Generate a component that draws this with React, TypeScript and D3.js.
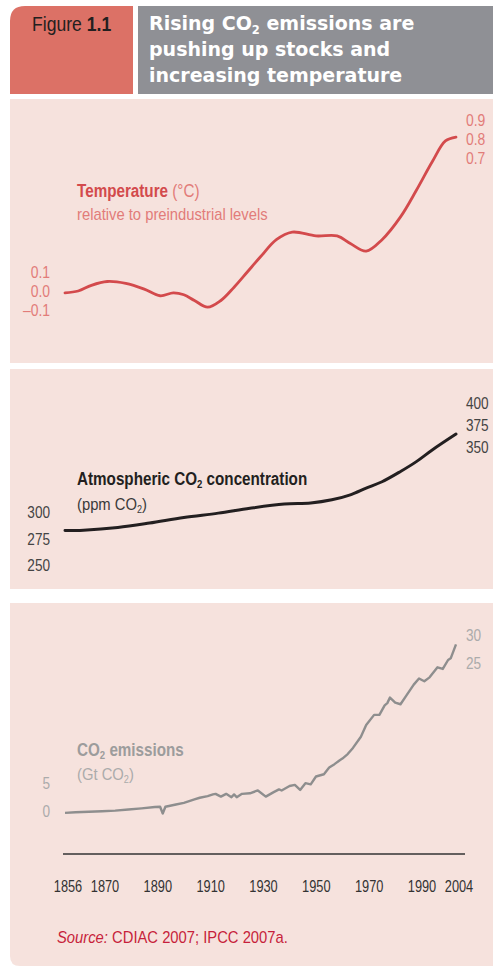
import React from "react";
import * as d3 from "d3";

// ---------- Data ----------
const tempYears = [1856, 1861, 1866, 1872, 1879, 1886, 1892, 1897, 1901, 1905, 1910, 1915, 1920, 1925, 1930, 1936, 1942, 1951, 1959, 1964, 1970, 1976, 1983, 1989, 1995, 2000, 2004];
const tempValues = [-0.01, 0.0, 0.03, 0.05, 0.04, 0.01, -0.025, -0.01, -0.02, -0.05, -0.085, -0.05, 0.02, 0.1, 0.18, 0.27, 0.31, 0.29, 0.29, 0.25, 0.21, 0.27, 0.39, 0.53, 0.68, 0.79, 0.81];

const co2Years = [1856, 1863, 1876, 1888, 1901, 1914, 1926, 1939, 1949, 1957, 1964, 1970, 1976, 1983, 1989, 1995, 2004];
const co2Values = [283, 283.3, 285.8, 290, 295.3, 299.4, 304, 308, 309, 312, 316.7, 323, 329, 338.7, 348, 359, 374];

const emisYears = [1856, 1860, 1865, 1870, 1875, 1880, 1885, 1890, 1892, 1893, 1894, 1898, 1901, 1903, 1905, 1907, 1910, 1912, 1913, 1915, 1917, 1919, 1920, 1921, 1923, 1926, 1929, 1932, 1935, 1937, 1938, 1941, 1943, 1945, 1947, 1949, 1951, 1954, 1956, 1958, 1960, 1961, 1963, 1965, 1968, 1970, 1973, 1975, 1977, 1978, 1979, 1981, 1983, 1985, 1988, 1990, 1992, 1994, 1997, 1999, 2001, 2002, 2004];
const emisValues = [0.2, 0.3, 0.4, 0.5, 0.6, 0.8, 1.0, 1.25, 1.3, 0.1, 1.3, 1.7, 2.0, 2.3, 2.6, 2.9, 3.2, 3.5, 3.6, 3.1, 3.6, 3.0, 3.5, 3.0, 3.6, 3.7, 4.2, 3.1, 3.9, 4.4, 4.2, 5.0, 5.2, 4.3, 5.5, 5.3, 6.7, 7.1, 8.3, 8.9, 9.6, 9.9, 10.7, 11.8, 13.8, 15.9, 17.7, 17.7, 19.4, 19.8, 20.8, 19.9, 19.6, 21.0, 23.1, 24.2, 23.7, 24.4, 26.2, 25.9, 27.5, 27.8, 30.3];

const xTickYears = [1856, 1870, 1890, 1910, 1930, 1950, 1970, 1990, 2004];
const tempLeftTicks = [0.1, 0.0, -0.1];
const tempLeftLabels = ["0.1", "0.0", "–0.1"];
const tempRightTicks = [0.9, 0.8, 0.7];
const co2LeftTicks = [300, 275, 250];
const co2RightTicks = [400, 375, 350];
const emisLeftTicks = [5, 0];
const emisRightTicks = [30, 25];

const titleLines = ["Rising CO", " emissions are", "pushing up stocks and", "increasing temperature"];

// ---------- Styles ----------
const NARROW = "'Liberation Sans', Arial, sans-serif";
const TITLE_FONT = "'DejaVu Sans', sans-serif";
const PANEL_BG = "#f6e2dd";
const TEMP_RED = "#d34a4c";
const TEMP_LIGHT = "#e27c79";
const SRC_RED = "#c71f3b";

type NProps = {
  x: number;
  y: number;
  sx?: number;
  anchor?: "start" | "middle" | "end";
  size: number;
  fill: string;
  weight?: string;
  dy?: string;
  children?: React.ReactNode;
};

// Condensed-looking text: horizontally compressed Liberation Sans
function NText({ x, y, sx = 0.9, anchor = "start", size, fill, weight = "normal", dy, children }: NProps) {
  return (
    <text
      transform={`translate(${x},${y}) scale(${sx},1)`}
      textAnchor={anchor}
      fontFamily={NARROW}
      fontSize={size}
      fill={fill}
      fontWeight={weight}
      dy={dy}
    >
      {children}
    </text>
  );
}

export default function App() {
  const W = 493;
  const H = 968;

  const x = d3.scaleLinear().domain([1856, 2004]).range([65, 456]);

  const yT = d3.scaleLinear().domain([0, 0.8]).range([291, 139]);
  const yC = d3.scaleLinear().domain([275, 300]).range([539, 512.5]);
  const yCR = d3.scaleLinear().domain([350, 400]).range([447, 403]);
  const yE = d3.scaleLinear().domain([0, 5]).range([814, 786]);
  const yER = d3.scaleLinear().domain([25, 30]).range([663, 635]);

  const tempLine = d3
    .line<number>()
    .x((_, i) => x(tempYears[i]))
    .y((d) => yT(d))
    .curve(d3.curveCatmullRom.alpha(0.5));
  const co2Line = d3
    .line<number>()
    .x((_, i) => x(co2Years[i]))
    .y((d) => yC(d))
    .curve(d3.curveCatmullRom.alpha(0.5));
  const emisLine = d3
    .line<number>()
    .x((_, i) => x(emisYears[i]))
    .y((d) => yE(d))
    .curve(d3.curveLinear);

  const r = 15;
  const redPath = `M10,${6 + r} Q10,6 ${10 + r},6 L133,6 L133,94 L10,94 Z`;
  const rb = 10;
  const p3Path = `M10,603 L493,603 L493,966 L${10 + rb},966 Q10,966 10,${966 - rb} Z`;

  return (
    <svg
      width={W}
      height={H}
      viewBox={`0 0 ${W} ${H}`}
      style={{ position: "absolute", left: 0, top: 0, background: "#ffffff" }}
    >
      {/* Header */}
      <path d={redPath} fill="#dc7166" />
      <rect x={138} y={6} width={W - 138} height={88} fill="#8f9095" />
      <NText x={32} y={31} sx={0.88} size={20} fill="#231f20">
        Figure <tspan fontWeight="bold">1.1</tspan>
      </NText>
      <text fontFamily={TITLE_FONT} fontSize={19} fontWeight="bold" fill="#ffffff">
        <tspan x={149} y={30}>
          {titleLines[0]}
          <tspan fontSize={11.5} dy={4}>2</tspan>
          <tspan dy={-4}>{titleLines[1]}</tspan>
        </tspan>
        <tspan x={149} y={55.5}>{titleLines[2]}</tspan>
        <tspan x={149} y={81.5}>{titleLines[3]}</tspan>
      </text>

      {/* Panels */}
      <rect x={10} y={99} width={W - 10} height={264} fill={PANEL_BG} />
      <rect x={10} y={369} width={W - 10} height={220} fill={PANEL_BG} />
      <path d={p3Path} fill={PANEL_BG} />

      {/* Temperature panel */}
      <NText x={77} y={197} sx={0.87} size={17.5} fill={TEMP_RED} weight="bold">
        Temperature<tspan fontWeight="normal" fill={TEMP_LIGHT}> (°C)</tspan>
      </NText>
      <NText x={77} y={220} sx={0.87} size={17} fill={TEMP_LIGHT}>
        relative to preindustrial levels
      </NText>
      {tempLeftTicks.map((t, i) => (
        <NText key={"tl" + i} x={50} y={yT(t)} dy="0.35em" anchor="end" sx={0.87} size={16} fill={TEMP_LIGHT}>
          {tempLeftLabels[i]}
        </NText>
      ))}
      {tempRightTicks.map((t, i) => (
        <NText key={"tr" + i} x={466} y={yT(t)} dy="0.35em" sx={0.87} size={16} fill={TEMP_LIGHT}>
          {t.toFixed(1)}
        </NText>
      ))}
      <path d={tempLine(tempValues) || ""} fill="none" stroke={TEMP_RED} strokeWidth={2.8} strokeLinecap="round" />

      {/* CO2 concentration panel */}
      <NText x={77} y={485} sx={0.87} size={17.5} fill="#231f20" weight="bold">
        Atmospheric CO<tspan fontSize={11} dy={3}>2</tspan>
        <tspan dy={-3}> concentration</tspan>
      </NText>
      <NText x={77} y={510} sx={0.87} size={17} fill="#3a3a3a">
        (ppm CO<tspan fontSize={10.5} dy={3}>2</tspan>
        <tspan dy={-3}>)</tspan>
      </NText>
      {co2LeftTicks.map((t, i) => (
        <NText key={"cl" + i} x={50} y={yC(t)} dy="0.35em" anchor="end" sx={0.85} size={16} fill="#444">
          {t}
        </NText>
      ))}
      {co2RightTicks.map((t, i) => (
        <NText key={"cr" + i} x={466} y={yCR(t)} dy="0.35em" sx={0.85} size={16} fill="#444">
          {t}
        </NText>
      ))}
      <path d={co2Line(co2Values) || ""} fill="none" stroke="#231f20" strokeWidth={3} strokeLinecap="round" />

      {/* Emissions panel */}
      <NText x={77} y={756} sx={0.87} size={17.5} fill="#9c9c9c" weight="bold">
        CO<tspan fontSize={11} dy={3}>2</tspan>
        <tspan dy={-3}> emissions</tspan>
      </NText>
      <NText x={77} y={780} sx={0.87} size={17} fill="#ababab">
        (Gt CO<tspan fontSize={10.5} dy={3}>2</tspan>
        <tspan dy={-3}>)</tspan>
      </NText>
      {emisLeftTicks.map((t, i) => (
        <NText key={"el" + i} x={50} y={yE(t) - 3} dy="0.35em" anchor="end" sx={0.85} size={16} fill="#ababab">
          {t}
        </NText>
      ))}
      {emisRightTicks.map((t, i) => (
        <NText key={"er" + i} x={466} y={yER(t)} dy="0.35em" sx={0.85} size={16} fill="#ababab">
          {t}
        </NText>
      ))}
      <path d={emisLine(emisValues) || ""} fill="none" stroke="#8e8e8e" strokeWidth={2.4} strokeLinejoin="round" />

      {/* X axis */}
      <line x1={x(1856) - 2} x2={x(2004) + 9} y1={854} y2={854} stroke="#333" strokeWidth={1.5} />
      {xTickYears.map((yr) => (
        <NText key={"x" + yr} x={x(yr) + 3} y={892} sx={0.8} anchor="middle" size={16} fill="#333">
          {yr}
        </NText>
      ))}

      {/* Source */}
      <NText x={57} y={943} sx={0.87} size={17} fill={SRC_RED}>
        <tspan fontStyle="italic">Source:</tspan> CDIAC 2007; IPCC 2007a.
      </NText>
    </svg>
  );
}
